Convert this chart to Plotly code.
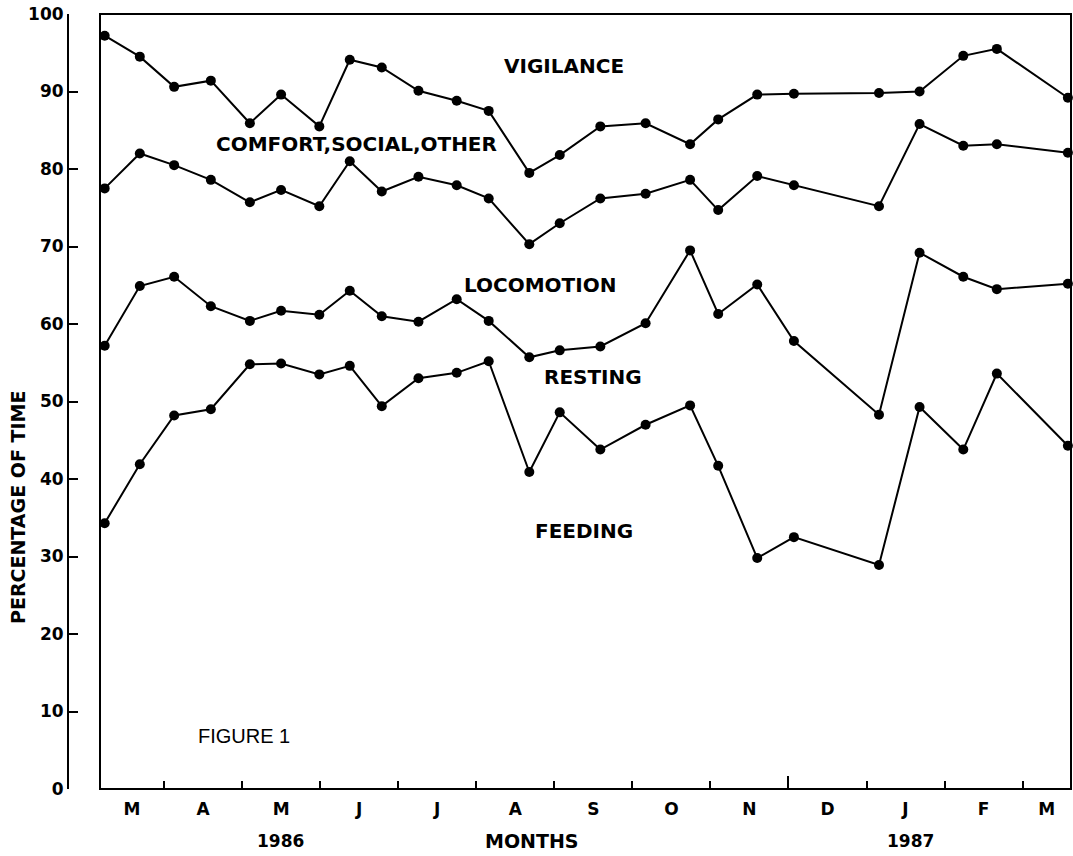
import plotly.graph_objects as go

# Sampling dates, in months counted from 1 March 1986 (1.0 = 1 April 1986)
sample_month = [0.24, 0.69, 1.13, 1.60, 2.10, 2.50, 2.99, 3.38, 3.79, 4.26, 4.75, 5.16,
                5.68, 6.07, 6.59, 7.17, 7.74, 8.10, 8.60, 9.07, 10.16, 10.68, 11.24, 11.67, 12.58]

# Cumulative percentage of time (each line is the upper edge of a behaviour band)
feeding_cum = [34.3, 41.9, 48.2, 49.0, 54.8, 54.9, 53.5, 54.6, 49.4, 53.0, 53.7, 55.2,
               40.9, 48.6, 43.8, 47.0, 49.5, 41.7, 29.8, 32.5, 28.9, 49.3, 43.8, 53.6, 44.3]
resting_cum = [57.2, 64.9, 66.1, 62.3, 60.4, 61.7, 61.2, 64.3, 61.0, 60.3, 63.2, 60.4,
               55.7, 56.6, 57.1, 60.1, 69.5, 61.3, 65.1, 57.8, 48.3, 69.2, 66.1, 64.5, 65.2]
locomotion_cum = [77.5, 82.0, 80.5, 78.6, 75.7, 77.3, 75.2, 81.0, 77.1, 79.0, 77.9, 76.2,
                  70.3, 73.0, 76.2, 76.8, 78.6, 74.7, 79.1, 77.9, 75.2, 85.8, 83.0, 83.2, 82.1]
comfort_cum = [97.2, 94.5, 90.6, 91.4, 85.9, 89.6, 85.5, 94.1, 93.1, 90.1, 88.8, 87.5,
               79.5, 81.8, 85.5, 85.9, 83.2, 86.4, 89.6, 89.7, 89.8, 90.0, 94.6, 95.5, 89.2]

# Month boundaries (ticks) and month initials, March 1986 - March 1987
month_bounds = [1, 2, 3, 4, 5, 6, 7, 8, 9, 10, 11, 12]
year_bound = 9  # 1 December: drawn as a longer tick
month_letters = ["M", "A", "M", "J", "J", "A", "S", "O", "N", "D", "J", "F", "M"]
y_ticks = [0, 10, 20, 30, 40, 50, 60, 70, 80, 90, 100]

# Band names placed inside their bands: (text, month position, percentage)
band_labels = [
    ("VIGILANCE", 6.13, 93.3),
    ("COMFORT,SOCIAL,OTHER", 3.47, 83.2),
    ("LOCOMOTION", 5.82, 65.0),
    ("RESTING", 6.49, 53.1),
    ("FEEDING", 6.38, 33.3),
]

x_range = [0.18, 12.62]
y_range = [0, 100]

BOLD = "DejaVu Sans"
INK = "black"

fig = go.Figure()
for series in (feeding_cum, resting_cum, locomotion_cum, comfort_cum):
    fig.add_trace(go.Scatter(
        x=sample_month, y=series, mode="lines+markers",
        line=dict(color=INK, width=2),
        marker=dict(color=INK, size=10),
        cliponaxis=False, showlegend=False, hoverinfo="skip",
    ))

# Empty trace that carries the month-label axis
fig.add_trace(go.Scatter(x=[], y=[], xaxis="x2", showlegend=False, hoverinfo="skip"))

# Month initials centred on the visible part of each month
edges = [x_range[0]] + month_bounds + [x_range[1]]
label_pos = [(a + b) / 2 for a, b in zip(edges[:-1], edges[1:])]

for text, xm, yv in band_labels:
    fig.add_annotation(x=xm, y=yv, text=text, showarrow=False,
                       xanchor="center", yanchor="middle",
                       font=dict(family=BOLD, size=20, color=INK, weight="bold"))

fig.add_annotation(x=2.03, y=6.8, text="FIGURE 1", showarrow=False,
                   xanchor="center", yanchor="middle",
                   font=dict(family="Liberation Sans", size=20, color=INK))

W, H = 1073, 856
ml, mr, mt, mb = 68, 2, 14, 67
pw = W - ml - mr
ph = H - mt - mb

def px_x(p):
    return (p - ml) / pw

def px_y(p):
    return (H - mb - p) / ph

def paper_text(text, xp, yp, size, angle=0):
    fig.add_annotation(xref="paper", yref="paper", x=px_x(xp), y=px_y(yp),
                       xanchor="center", yanchor="middle", text=text,
                       textangle=angle, showarrow=False,
                       font=dict(family=BOLD, size=size, color=INK, weight="bold"))

paper_text("PERCENTAGE OF TIME", 18, 508, 19, angle=-90)
paper_text("1986", 280, 841, 17)
paper_text("MONTHS", 532, 841, 19)
paper_text("1987", 910, 841, 17)

# Frame around the plotting area
fig.add_shape(type="rect", xref="x domain", yref="y domain", x0=0, x1=1, y0=0, y1=1,
              line=dict(color=INK, width=2), layer="above")

fig.update_layout(
    width=W, height=H,
    margin=dict(l=ml, r=mr, t=mt, b=mb, autoexpand=False),
    paper_bgcolor="white", plot_bgcolor="white",
    xaxis=dict(
        domain=[px_x(100), 1], range=x_range, anchor="y",
        showgrid=False, zeroline=False, showline=False,
        tickmode="array", tickvals=[year_bound], ticks="inside", ticklen=13,
        tickwidth=2, tickcolor=INK, showticklabels=False,
        minor=dict(tickmode="array",
                   tickvals=[b for b in month_bounds if b != year_bound],
                   ticks="inside", ticklen=8, tickwidth=2, tickcolor=INK),
    ),
    xaxis2=dict(
        domain=[px_x(100), 1], range=x_range, overlaying="x", anchor="y", side="bottom",
        showgrid=False, zeroline=False, showline=False,
        tickmode="array", tickvals=label_pos, ticktext=month_letters,
        ticks="outside", ticklen=5, tickcolor="rgba(0,0,0,0)",
        tickfont=dict(family=BOLD, size=17, color=INK, weight="bold"),
    ),
    yaxis=dict(
        range=y_range, anchor="free", position=0,
        showgrid=False, zeroline=False,
        showline=True, linewidth=2, linecolor=INK,
        tickmode="array", tickvals=y_ticks, ticks="inside", ticklen=9,
        tickwidth=2, tickcolor=INK,
        tickfont=dict(family=BOLD, size=17, color=INK, weight="bold"),
    ),
)

fig.write_html("out.html")
